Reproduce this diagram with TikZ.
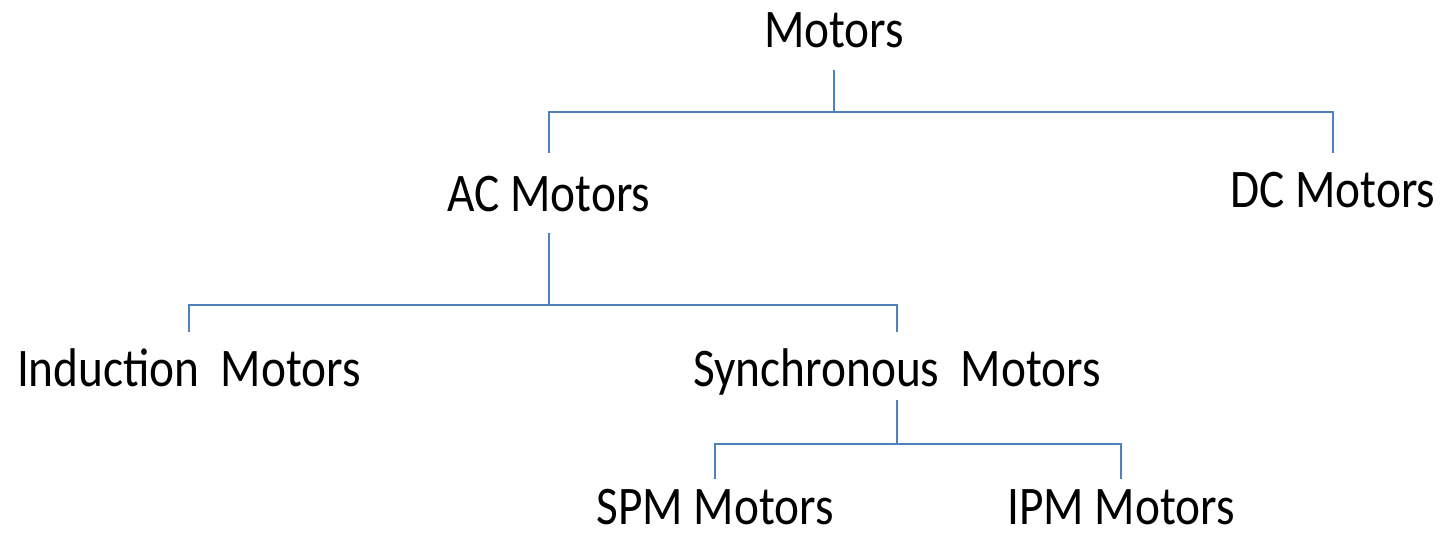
\documentclass[tikz,border=0pt]{standalone}
\usepackage{fontspec}
\setmainfont{Carlito}
\definecolor{linkblue}{RGB}{79,129,189}
\tikzset{
  x=1pt, y=-1pt,
  label/.style={anchor=base, inner sep=0pt, font=\fontsize{47.3}{56}\selectfont},
  link/.style={draw=linkblue, line width=2.2pt, line cap=butt, line join=miter}
}
\newcommand{\tall}[1]{\scalebox{1}[1.15]{#1}}
\begin{document}
\begin{tikzpicture}
\useasboundingbox (0,0) rectangle (1445,535);

% category labels
\node[label] (motors) at (834,48)  {\tall{Motors}};
\node[label] (ac)     at (549,211) {\tall{AC Motors}};
\node[label] (dc)     at (1333,207) {\tall{DC Motors}};
\node[label] (ind)    at (189,386) {\tall{Induction\ \ Motors}};
\node[label] (syn)    at (897,386) {\tall{Synchronous\ \ Motors}};
\node[label] (spm)    at (715,524) {\tall{SPM Motors}};
\node[label] (ipm)    at (1121,524) {\tall{IPM Motors}};

% Motors -> AC / DC
\draw[link] ([yshift=-22pt]motors.base) -- ([yshift=-64pt]motors.base) -| ([yshift=58pt]ac.base);
\draw[link] ([yshift=-64pt]motors.base) -| ([yshift=54pt]dc.base);

% AC -> Induction / Synchronous
\draw[link] ([yshift=-22pt]ac.base) -- ([yshift=-94pt]ac.base) -| ([yshift=54pt]ind.base);
\draw[link] ([yshift=-94pt]ac.base) -| ([yshift=54pt]syn.base);

% Synchronous -> SPM / IPM
\draw[link] ([yshift=-14pt]syn.base) -- ([yshift=-58pt]syn.base) -| ([yshift=45pt]spm.base);
\draw[link] ([yshift=-58pt]syn.base) -| ([yshift=45pt]ipm.base);
\end{tikzpicture}
\end{document}
